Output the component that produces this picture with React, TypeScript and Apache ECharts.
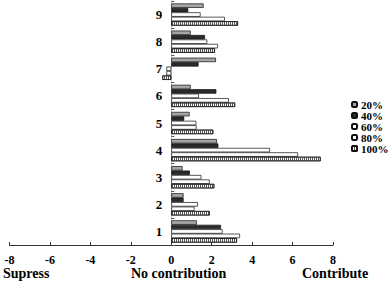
import React, { useEffect, useRef } from "react";
import * as echarts from "echarts";

const categories = ["1", "2", "3", "4", "5", "6", "7", "8", "9"];
const legendNames = ["20%", "40%", "60%", "80%", "100%"];
const v20 = [1.27, 0.61, 0.56, 2.26, 0.91, 0.96, 2.21, 0.96, 1.6];
const v40 = [2.46, 0.61, 0.92, 2.33, 0.64, 2.23, 1.35, 1.67, 0.84];
const v60 = [2.54, 1.32, 1.49, 4.88, 1.24, 1.37, -0.24, 1.78, 1.45];
const v80 = [3.4, 1.15, 1.9, 6.27, 1.25, 2.85, -0.24, 2.31, 2.65];
const v100 = [3.25, 1.9, 2.13, 7.39, 2.08, 3.16, -0.44, 2.16, 3.3];
const bottomLabels = ["Supress", "No contribution", "Contribute"];

const FONT = "'Liberation Serif', 'Times New Roman', serif";
const GRID_LEFT = 9.5;
const GRID_RIGHT = 59;
const W = 392;

export default function App() {
  const ref = useRef<HTMLDivElement>(null);
  useEffect(() => {
    if (!ref.current) return;
    const chart = echarts.init(ref.current, null, { renderer: "svg" });
    const border = { borderColor: "#111", borderWidth: 0.7 };
    const mk = (name: string, data: number[], itemStyle: any) => ({
      name,
      type: "bar",
      data,
      barGap: "0%",
      barCategoryGap: "18%",
      itemStyle: { ...border, ...itemStyle },
    });
    // y axis placed at x = 0 of the value axis (middle of the symmetric -8..8 range)
    const zeroOffset = -((W - GRID_LEFT - GRID_RIGHT) / 2);
    chart.setOption({
      animation: false,
      backgroundColor: "#fff",
      textStyle: { fontFamily: FONT },
      grid: { left: GRID_LEFT, right: GRID_RIGHT, top: 1, bottom: 38, containLabel: false },
      xAxis: {
        type: "value",
        min: -8,
        max: 8,
        interval: 2,
        axisLine: { show: true, onZero: false, lineStyle: { color: "#333", width: 1 } },
        axisTick: { show: true, inside: true, length: 3, lineStyle: { color: "#333" } },
        axisLabel: { color: "#000", fontWeight: "bold", fontSize: 12, fontFamily: FONT, margin: 9 },
        splitLine: { show: false },
      },
      yAxis: {
        type: "category",
        data: categories,
        position: "left",
        offset: zeroOffset,
        axisLine: { show: true, onZero: false, lineStyle: { color: "#444", width: 0.6, opacity: 0.5 } },
        axisTick: { show: true, inside: true, length: 3, lineStyle: { color: "#555" } },
        axisLabel: { color: "#000", fontWeight: "bold", fontSize: 13, fontFamily: FONT, margin: 9 },
      },
      legend: {
        data: legendNames,
        orient: "vertical",
        left: 346,
        top: 94,
        itemWidth: 5,
        itemHeight: 5,
        itemGap: 0,
        textStyle: { color: "#000", fontWeight: "bold", fontSize: 11, fontFamily: FONT, lineHeight: 11, padding: [0, 0, 0, -1] },
      },
      series: [
        mk("20%", v20, { color: "#a5a5a5" }),
        mk("40%", v40, { color: "#2a2a2a" }),
        mk("60%", v60, { color: "#fff" }),
        mk("80%", v80, { color: "#fff" }),
        mk("100%", v100, {
          color: "#fff",
          decal: { symbol: "rect", symbolSize: 1, dashArrayX: [1, 1], dashArrayY: [4, 0], color: "#555" },
        }),
      ],
      graphic: [
        { type: "text", left: 3, top: 266, style: { text: bottomLabels[0], font: `bold 14px ${FONT}`, fill: "#000" } },
        { type: "text", left: 131, top: 266, style: { text: bottomLabels[1], font: `bold 14px ${FONT}`, fill: "#000" } },
        { type: "text", left: 302, top: 266, style: { text: bottomLabels[2], font: `bold 14px ${FONT}`, fill: "#000" } },
      ],
    });
    return () => chart.dispose();
  }, []);
  return <div ref={ref} style={{ position: "fixed", left: 0, top: 0, width: W, height: 283 }} />;
}
